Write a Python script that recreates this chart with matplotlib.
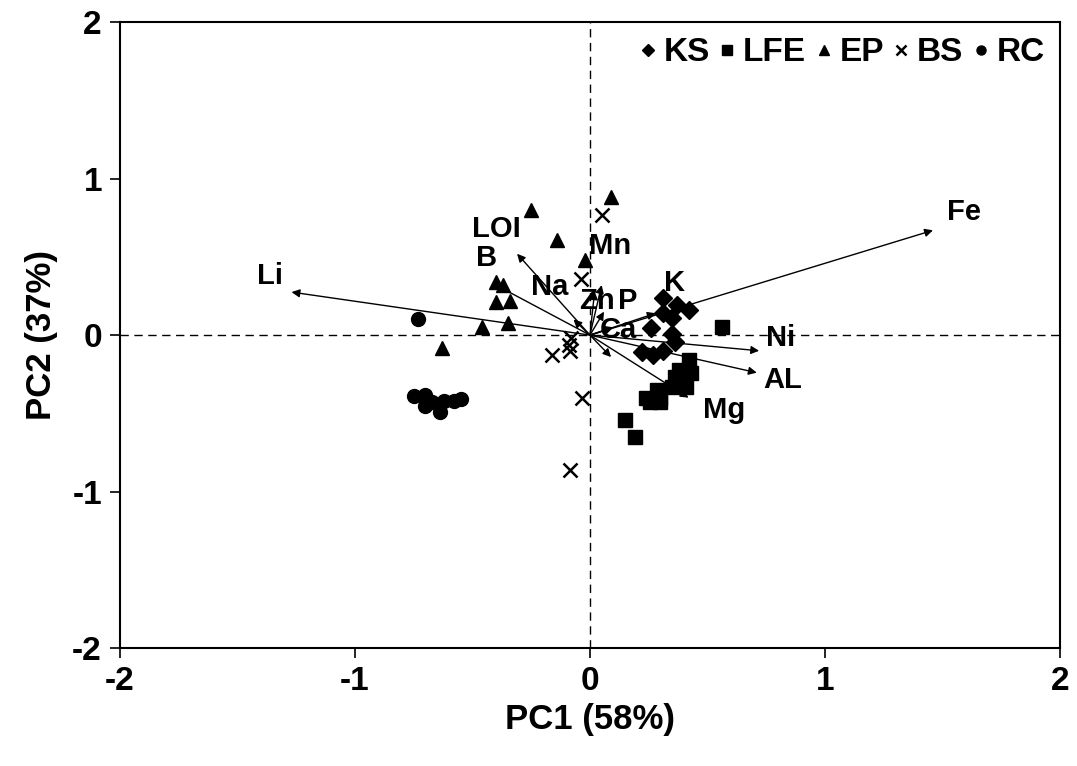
import matplotlib
matplotlib.use("Agg")
import matplotlib.pyplot as plt

plt.rcParams['font.family'] = ['Liberation Sans', 'DejaVu Sans']
plt.rcParams['font.weight'] = 'bold'
plt.rcParams['axes.unicode_minus'] = False

# Sample scores by group (PC1, PC2)
ks_x = [0.31, 0.37, 0.42, 0.31, 0.35, 0.26, 0.35, 0.36, 0.22, 0.27, 0.31]
ks_y = [0.24, 0.19, 0.16, 0.14, 0.11, 0.045, 0.01, -0.045, -0.11, -0.13, -0.10]

lfe_x = [0.56, 0.15, 0.19, 0.42, 0.38, 0.36, 0.40, 0.35, 0.41, 0.285, 0.24, 0.30, 0.255, 0.30, 0.37, 0.43]
lfe_y = [0.05, -0.54, -0.65, -0.16, -0.22, -0.27, -0.30, -0.33, -0.33, -0.35, -0.40, -0.40, -0.43, -0.43, -0.31, -0.24]

ep_x = [0.09, -0.25, -0.14, -0.02, -0.40, -0.37, -0.40, -0.34, -0.35, -0.46, -0.63]
ep_y = [0.88, 0.80, 0.61, 0.48, 0.34, 0.32, 0.21, 0.22, 0.08, 0.05, -0.08]

bs_x = [0.05, -0.04, -0.08, -0.09, -0.085, -0.16, -0.035, -0.085]
bs_y = [0.77, 0.36, -0.02, -0.06, -0.10, -0.13, -0.40, -0.86]

rc_x = [-0.73, -0.75, -0.70, -0.70, -0.67, -0.64, -0.62, -0.58, -0.55]
rc_y = [0.10, -0.39, -0.38, -0.45, -0.43, -0.49, -0.42, -0.42, -0.41]

# Variable loadings (arrow tips) and their label positions
var_names = ['Fe', 'Ni', 'AL', 'Li', 'LOI', 'B', 'Na', 'Mn', 'Zn', 'P', 'Ca', 'K', 'Mg', '']
var_x = [1.46, 0.72, 0.71, -1.27, -0.31, -0.40, -0.07, 0.02, 0.05, 0.06, 0.10, 0.28, 0.42, 0.09]
var_y = [0.67, -0.10, -0.24, 0.275, 0.52, 0.32, 0.10, 0.28, 0.32, 0.15, 0.05, 0.14, -0.40, -0.14]
lab_x = [1.59, 0.81, 0.82, -1.36, -0.40, -0.44, -0.17, 0.085, 0.03, 0.16, 0.12, 0.36, 0.57, 0.0]
lab_y = [0.79, -0.02, -0.29, 0.38, 0.68, 0.49, 0.31, 0.57, 0.22, 0.22, 0.03, 0.33, -0.48, 0.0]

fig = plt.figure(figsize=(10.77, 7.66), dpi=100)
ax = fig.add_axes([0.1114, 0.154, 0.8727, 0.817])

ax.axhline(0, color='black', lw=1.0, ls=(0, (6, 4)), zorder=1)
ax.axvline(0, color='black', lw=1.0, ls=(0, (6, 4)), zorder=1)

for vx, vy in zip(var_x, var_y):
    ax.annotate('', xy=(vx, vy), xytext=(0, 0),
                arrowprops=dict(arrowstyle='-|>', color='black', lw=1.0,
                                mutation_scale=12, shrinkA=0, shrinkB=0),
                zorder=2)
for name, tx, ty in zip(var_names, lab_x, lab_y):
    if name:
        ax.text(tx, ty, name, fontsize=21, fontweight='bold', ha='center',
                va='center', zorder=4)

ax.plot(ks_x, ks_y, 'D', color='black', ms=9, ls='none', label='KS', zorder=3)
ax.plot(lfe_x, lfe_y, 's', color='black', ms=10, ls='none', label='LFE', zorder=3)
ax.plot(ep_x, ep_y, '^', color='black', ms=10, ls='none', label='EP', zorder=3)
ax.plot(bs_x, bs_y, 'x', color='black', ms=10, mew=1.8, ls='none', label='BS', zorder=3)
ax.plot(rc_x, rc_y, 'o', color='black', ms=10, ls='none', label='RC', zorder=3)

ax.set_xlim(-2, 2)
ax.set_ylim(-2, 2)
ax.set_xticks([-2, -1, 0, 1, 2])
ax.set_yticks([-2, -1, 0, 1, 2])
ax.tick_params(direction='out', length=7, width=1.2, labelsize=24, pad=6)
for lab in ax.get_xticklabels() + ax.get_yticklabels():
    lab.set_fontweight('bold')
for sp in ax.spines.values():
    sp.set_linewidth(1.5)

ax.set_xlabel('PC1 (58%)', fontsize=25, fontweight='bold', labelpad=4)
ax.set_ylabel('PC2 (37%)', fontsize=25, fontweight='bold', labelpad=10)

leg = ax.legend(loc='upper right', ncol=5, frameon=False,
                markerscale=0.65, handlelength=0.45, handletextpad=0.25,
                columnspacing=0.3, borderaxespad=0.05,
                prop={'weight': 'bold', 'size': 24})

fig.savefig('out.png', dpi=100)
